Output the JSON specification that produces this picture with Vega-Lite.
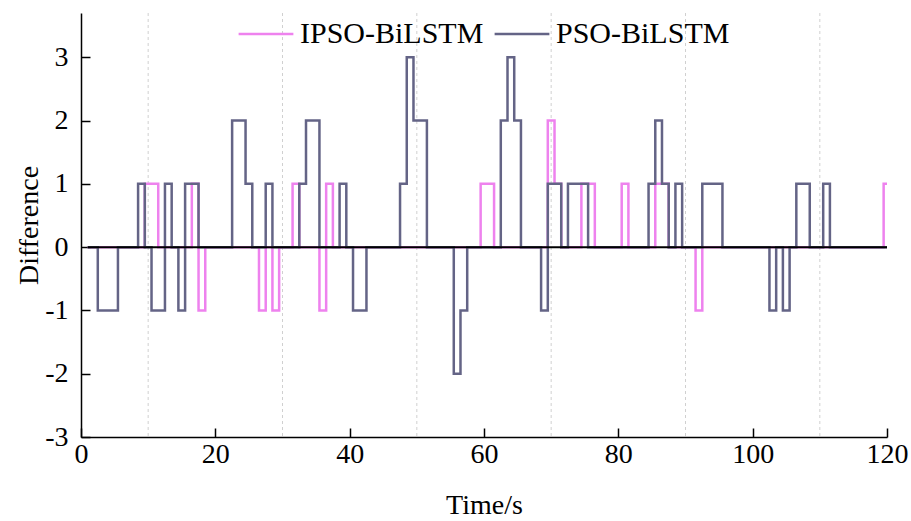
{
  "$schema": "https://vega.github.io/schema/vega-lite/v6.json",
  "width": 806,
  "height": 424,
  "autosize": "none",
  "padding": {"left": 81, "top": 13, "right": 24, "bottom": 84},
  "background": "white",
  "config": {"font": "Liberation Serif", "view": {"stroke": null}},
  "data": {
    "values": [
      {"t":1,"IPSO-BiLSTM":0,"PSO-BiLSTM":0},{"t":2,"IPSO-BiLSTM":0,"PSO-BiLSTM":0},{"t":3,"IPSO-BiLSTM":0,"PSO-BiLSTM":-1},{"t":4,"IPSO-BiLSTM":0,"PSO-BiLSTM":-1},{"t":5,"IPSO-BiLSTM":0,"PSO-BiLSTM":-1},
      {"t":6,"IPSO-BiLSTM":0,"PSO-BiLSTM":0},{"t":7,"IPSO-BiLSTM":0,"PSO-BiLSTM":0},{"t":8,"IPSO-BiLSTM":0,"PSO-BiLSTM":0},{"t":9,"IPSO-BiLSTM":0,"PSO-BiLSTM":1},{"t":10,"IPSO-BiLSTM":1,"PSO-BiLSTM":0},
      {"t":11,"IPSO-BiLSTM":1,"PSO-BiLSTM":-1},{"t":12,"IPSO-BiLSTM":0,"PSO-BiLSTM":-1},{"t":13,"IPSO-BiLSTM":0,"PSO-BiLSTM":1},{"t":14,"IPSO-BiLSTM":0,"PSO-BiLSTM":0},{"t":15,"IPSO-BiLSTM":0,"PSO-BiLSTM":-1},
      {"t":16,"IPSO-BiLSTM":0,"PSO-BiLSTM":1},{"t":17,"IPSO-BiLSTM":1,"PSO-BiLSTM":1},{"t":18,"IPSO-BiLSTM":-1,"PSO-BiLSTM":0},{"t":19,"IPSO-BiLSTM":0,"PSO-BiLSTM":0},{"t":20,"IPSO-BiLSTM":0,"PSO-BiLSTM":0},
      {"t":21,"IPSO-BiLSTM":0,"PSO-BiLSTM":0},{"t":22,"IPSO-BiLSTM":0,"PSO-BiLSTM":0},{"t":23,"IPSO-BiLSTM":0,"PSO-BiLSTM":2},{"t":24,"IPSO-BiLSTM":0,"PSO-BiLSTM":2},{"t":25,"IPSO-BiLSTM":0,"PSO-BiLSTM":1},
      {"t":26,"IPSO-BiLSTM":0,"PSO-BiLSTM":0},{"t":27,"IPSO-BiLSTM":-1,"PSO-BiLSTM":0},{"t":28,"IPSO-BiLSTM":0,"PSO-BiLSTM":1},{"t":29,"IPSO-BiLSTM":-1,"PSO-BiLSTM":0},{"t":30,"IPSO-BiLSTM":0,"PSO-BiLSTM":0},
      {"t":31,"IPSO-BiLSTM":0,"PSO-BiLSTM":0},{"t":32,"IPSO-BiLSTM":1,"PSO-BiLSTM":0},{"t":33,"IPSO-BiLSTM":0,"PSO-BiLSTM":1},{"t":34,"IPSO-BiLSTM":0,"PSO-BiLSTM":2},{"t":35,"IPSO-BiLSTM":0,"PSO-BiLSTM":2},
      {"t":36,"IPSO-BiLSTM":-1,"PSO-BiLSTM":0},{"t":37,"IPSO-BiLSTM":1,"PSO-BiLSTM":0},{"t":38,"IPSO-BiLSTM":0,"PSO-BiLSTM":0},{"t":39,"IPSO-BiLSTM":0,"PSO-BiLSTM":1},{"t":40,"IPSO-BiLSTM":0,"PSO-BiLSTM":0},
      {"t":41,"IPSO-BiLSTM":0,"PSO-BiLSTM":-1},{"t":42,"IPSO-BiLSTM":0,"PSO-BiLSTM":-1},{"t":43,"IPSO-BiLSTM":0,"PSO-BiLSTM":0},{"t":44,"IPSO-BiLSTM":0,"PSO-BiLSTM":0},{"t":45,"IPSO-BiLSTM":0,"PSO-BiLSTM":0},
      {"t":46,"IPSO-BiLSTM":0,"PSO-BiLSTM":0},{"t":47,"IPSO-BiLSTM":0,"PSO-BiLSTM":0},{"t":48,"IPSO-BiLSTM":0,"PSO-BiLSTM":1},{"t":49,"IPSO-BiLSTM":0,"PSO-BiLSTM":3},{"t":50,"IPSO-BiLSTM":0,"PSO-BiLSTM":2},
      {"t":51,"IPSO-BiLSTM":0,"PSO-BiLSTM":2},{"t":52,"IPSO-BiLSTM":0,"PSO-BiLSTM":0},{"t":53,"IPSO-BiLSTM":0,"PSO-BiLSTM":0},{"t":54,"IPSO-BiLSTM":0,"PSO-BiLSTM":0},{"t":55,"IPSO-BiLSTM":0,"PSO-BiLSTM":0},
      {"t":56,"IPSO-BiLSTM":0,"PSO-BiLSTM":-2},{"t":57,"IPSO-BiLSTM":0,"PSO-BiLSTM":-1},{"t":58,"IPSO-BiLSTM":0,"PSO-BiLSTM":0},{"t":59,"IPSO-BiLSTM":0,"PSO-BiLSTM":0},{"t":60,"IPSO-BiLSTM":1,"PSO-BiLSTM":0},
      {"t":61,"IPSO-BiLSTM":1,"PSO-BiLSTM":0},{"t":62,"IPSO-BiLSTM":0,"PSO-BiLSTM":0},{"t":63,"IPSO-BiLSTM":0,"PSO-BiLSTM":2},{"t":64,"IPSO-BiLSTM":0,"PSO-BiLSTM":3},{"t":65,"IPSO-BiLSTM":0,"PSO-BiLSTM":2},
      {"t":66,"IPSO-BiLSTM":0,"PSO-BiLSTM":0},{"t":67,"IPSO-BiLSTM":0,"PSO-BiLSTM":0},{"t":68,"IPSO-BiLSTM":0,"PSO-BiLSTM":0},{"t":69,"IPSO-BiLSTM":0,"PSO-BiLSTM":-1},{"t":70,"IPSO-BiLSTM":2,"PSO-BiLSTM":1},
      {"t":71,"IPSO-BiLSTM":1,"PSO-BiLSTM":1},{"t":72,"IPSO-BiLSTM":0,"PSO-BiLSTM":0},{"t":73,"IPSO-BiLSTM":0,"PSO-BiLSTM":1},{"t":74,"IPSO-BiLSTM":0,"PSO-BiLSTM":1},{"t":75,"IPSO-BiLSTM":1,"PSO-BiLSTM":1},
      {"t":76,"IPSO-BiLSTM":1,"PSO-BiLSTM":0},{"t":77,"IPSO-BiLSTM":0,"PSO-BiLSTM":0},{"t":78,"IPSO-BiLSTM":0,"PSO-BiLSTM":0},{"t":79,"IPSO-BiLSTM":0,"PSO-BiLSTM":0},{"t":80,"IPSO-BiLSTM":0,"PSO-BiLSTM":0},
      {"t":81,"IPSO-BiLSTM":1,"PSO-BiLSTM":0},{"t":82,"IPSO-BiLSTM":0,"PSO-BiLSTM":0},{"t":83,"IPSO-BiLSTM":0,"PSO-BiLSTM":0},{"t":84,"IPSO-BiLSTM":0,"PSO-BiLSTM":0},{"t":85,"IPSO-BiLSTM":0,"PSO-BiLSTM":1},
      {"t":86,"IPSO-BiLSTM":1,"PSO-BiLSTM":2},{"t":87,"IPSO-BiLSTM":1,"PSO-BiLSTM":1},{"t":88,"IPSO-BiLSTM":0,"PSO-BiLSTM":0},{"t":89,"IPSO-BiLSTM":0,"PSO-BiLSTM":1},{"t":90,"IPSO-BiLSTM":0,"PSO-BiLSTM":0},
      {"t":91,"IPSO-BiLSTM":0,"PSO-BiLSTM":0},{"t":92,"IPSO-BiLSTM":-1,"PSO-BiLSTM":0},{"t":93,"IPSO-BiLSTM":0,"PSO-BiLSTM":1},{"t":94,"IPSO-BiLSTM":0,"PSO-BiLSTM":1},{"t":95,"IPSO-BiLSTM":0,"PSO-BiLSTM":1},
      {"t":96,"IPSO-BiLSTM":0,"PSO-BiLSTM":0},{"t":97,"IPSO-BiLSTM":0,"PSO-BiLSTM":0},{"t":98,"IPSO-BiLSTM":0,"PSO-BiLSTM":0},{"t":99,"IPSO-BiLSTM":0,"PSO-BiLSTM":0},{"t":100,"IPSO-BiLSTM":0,"PSO-BiLSTM":0},
      {"t":101,"IPSO-BiLSTM":0,"PSO-BiLSTM":0},{"t":102,"IPSO-BiLSTM":0,"PSO-BiLSTM":0},{"t":103,"IPSO-BiLSTM":0,"PSO-BiLSTM":-1},{"t":104,"IPSO-BiLSTM":0,"PSO-BiLSTM":0},{"t":105,"IPSO-BiLSTM":0,"PSO-BiLSTM":-1},
      {"t":106,"IPSO-BiLSTM":0,"PSO-BiLSTM":0},{"t":107,"IPSO-BiLSTM":0,"PSO-BiLSTM":1},{"t":108,"IPSO-BiLSTM":0,"PSO-BiLSTM":1},{"t":109,"IPSO-BiLSTM":0,"PSO-BiLSTM":0},{"t":110,"IPSO-BiLSTM":0,"PSO-BiLSTM":0},
      {"t":111,"IPSO-BiLSTM":0,"PSO-BiLSTM":1},{"t":112,"IPSO-BiLSTM":0,"PSO-BiLSTM":0},{"t":113,"IPSO-BiLSTM":0,"PSO-BiLSTM":0},{"t":114,"IPSO-BiLSTM":0,"PSO-BiLSTM":0},{"t":115,"IPSO-BiLSTM":0,"PSO-BiLSTM":0},
      {"t":116,"IPSO-BiLSTM":0,"PSO-BiLSTM":0},{"t":117,"IPSO-BiLSTM":0,"PSO-BiLSTM":0},{"t":118,"IPSO-BiLSTM":0,"PSO-BiLSTM":0},{"t":119,"IPSO-BiLSTM":0,"PSO-BiLSTM":0},{"t":120,"IPSO-BiLSTM":1,"PSO-BiLSTM":0}
    ]
  },
  "layer": [
    {
      "data": {"values": [{"g": 10}, {"g": 30}, {"g": 50}, {"g": 70}, {"g": 90}, {"g": 110}]},
      "mark": {"type": "rule", "stroke": "#d0d0d0", "strokeDash": [3, 3], "strokeWidth": 1},
      "encoding": {
        "x": {"field": "g", "type": "quantitative", "scale": {"domain": [0, 120], "nice": false}, "title": "Time/s"}
      }
    },
    {
      "transform": [{"fold": ["IPSO-BiLSTM", "PSO-BiLSTM"], "as": ["series", "value"]}],
      "mark": {"type": "line", "interpolate": "step", "strokeWidth": 2.5},
      "encoding": {
        "x": {
          "field": "t", "type": "quantitative",
          "scale": {"domain": [0, 120], "nice": false},
          "title": "Time/s",
          "axis": {
            "values": [0, 20, 40, 60, 80, 100, 120],
            "grid": false,
            "domainColor": "black", "domainWidth": 1.5,
            "tickColor": "black", "tickWidth": 1.5, "tickSize": -9,
            "labelFontSize": 28, "labelColor": "black", "labelPadding": 12, "labelFlush": false,
            "labelExpr": "'' + datum.value",
            "titleFontSize": 28, "titleColor": "black", "titleFontWeight": "normal", "titlePadding": 23
          }
        },
        "y": {
          "field": "value", "type": "quantitative",
          "scale": {"domain": [-3, 3.7], "nice": false, "zero": false},
          "title": "Difference",
          "axis": {
            "values": [-3, -2, -1, 0, 1, 2, 3],
            "grid": false,
            "domainColor": "black", "domainWidth": 1.5,
            "tickColor": "black", "tickWidth": 1.5, "tickSize": -9,
            "labelFontSize": 28, "labelColor": "black", "labelPadding": 22,
            "labelExpr": "'' + datum.value",
            "titleFontSize": 28, "titleColor": "black", "titleFontWeight": "normal", "titlePadding": 1
          }
        },
        "color": {
          "field": "series", "type": "nominal",
          "scale": {"domain": ["IPSO-BiLSTM", "PSO-BiLSTM"], "range": ["#EE82EE", "#646486"]},
          "legend": {
            "title": null, "orient": "none", "direction": "horizontal",
            "legendX": 156, "legendY": -8,
            "symbolType": "stroke", "symbolSize": 3000, "symbolStrokeWidth": 2.5,
            "labelFontSize": 30, "labelColor": "black", "labelOffset": 5, "columnPadding": 5, "labelLimit": 400
          }
        }
      }
    },
    {
      "data": {"values": [{"a": 1, "b": 120, "z": 0}]},
      "mark": {"type": "rule", "color": "black", "strokeWidth": 2},
      "encoding": {
        "x": {"field": "a", "type": "quantitative", "scale": {"domain": [0, 120], "nice": false}, "title": "Time/s"},
        "x2": {"field": "b"},
        "y": {"field": "z", "type": "quantitative", "scale": {"domain": [-3, 3.7], "nice": false, "zero": false}, "title": "Difference"}
      }
    }
  ]
}
